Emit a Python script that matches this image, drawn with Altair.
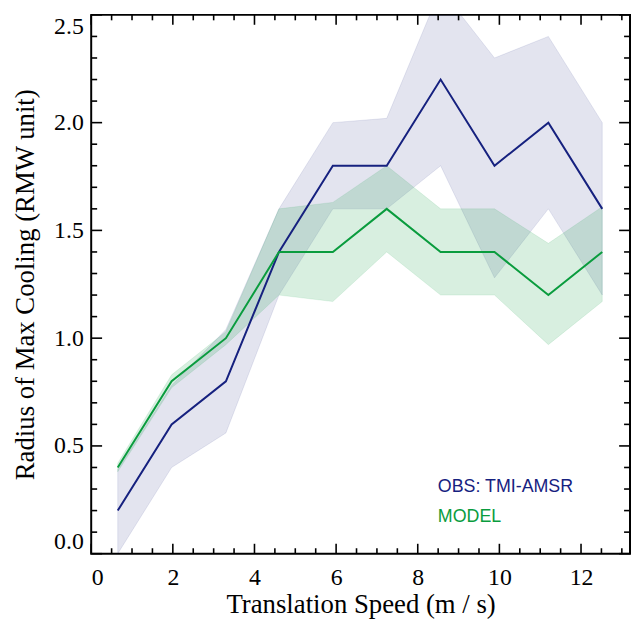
import altair as alt
import pandas as pd

# ---------------- data ----------------
speed = [0.65, 1.97, 3.3, 4.6, 5.92, 7.24, 8.56, 9.88, 11.2, 12.52]

obs_mid = [0.2, 0.6, 0.8, 1.4, 1.8, 1.8, 2.2, 1.8, 2.0, 1.6]
obs_lo = [0.0, 0.4, 0.56, 1.2, 1.6, 1.6, 1.8, 1.28, 1.6, 1.2]
obs_hi = [0.39, 0.78, 1.04, 1.6, 2.0, 2.02, 2.62, 2.3, 2.4, 2.0]

mod_mid = [0.4, 0.8, 1.0, 1.4, 1.4, 1.6, 1.4, 1.4, 1.2, 1.4]
mod_lo = [0.38, 0.77, 0.97, 1.2, 1.17, 1.4, 1.2, 1.2, 0.97, 1.17]
mod_hi = [0.42, 0.83, 1.03, 1.6, 1.63, 1.8, 1.6, 1.6, 1.44, 1.61]

series = ["OBS: TMI-AMSR", "MODEL"]
colors = ["#16217f", "#0a9c3e"]

x_major = [0, 2, 4, 6, 8, 10, 12]
x_minor = [v / 2 for v in range(1, 27) if v % 4 != 0]
y_major = [0.0, 0.5, 1.0, 1.5, 2.0, 2.5]
y_minor = [round(v / 10, 1) for v in range(1, 25) if v % 5 != 0]

# ---------------- build table ----------------
rows = []
for name, mid, lo, hi in [(series[0], obs_mid, obs_lo, obs_hi),
                          (series[1], mod_mid, mod_lo, mod_hi)]:
    for x, m, l, h in zip(speed, mid, lo, hi):
        rows.append(dict(series=name, speed=x, mid=m, lo=l, hi=h))
df = pd.DataFrame(rows)

W, H = 544, 544
SERIF = "Liberation Serif"
X_TITLE = "Translation Speed (m / s)"
Y_TITLE = "Radius of Max Cooling (RMW unit)"
xs = alt.Scale(domain=[0, 13.2], nice=False, zero=False)
ys = alt.Scale(domain=[0, 2.5], nice=False, zero=False)
# same mapping, with explicit pixel ranges, for the tick-mark group
xs_t = alt.Scale(domain=[0, 13.2], range=[0, W], nice=False, zero=False)
ys_t = alt.Scale(domain=[0, 2.5], range=[H, 0], nice=False, zero=False)
cs = alt.Scale(domain=series, range=colors)

x_axis = alt.Axis(values=x_major, ticks=False, domain=False, grid=False,
                  labelFont=SERIF, labelFontSize=24, labelColor="black",
                  labelPadding=12, titleFont=SERIF, titleFontSize=27,
                  titleFontWeight="normal", titleColor="black", titlePadding=2)
y_axis = alt.Axis(values=y_major, format=".1f", ticks=False, domain=False,
                  grid=False, labelFont=SERIF, labelFontSize=24,
                  labelColor="black", labelPadding=8, labelFlush=True,
                  titleFont=SERIF, titleFontSize=27, titleFontWeight="normal",
                  titleColor="black", titlePadding=14)

base = alt.Chart(df)

bands = base.mark_area(clip=True, strokeWidth=0.8, strokeOpacity=0.12).encode(
    x=alt.X("speed:Q", scale=xs, axis=x_axis, title=X_TITLE),
    y=alt.Y("lo:Q", scale=ys, axis=y_axis, title=Y_TITLE),
    y2="hi:Q",
    fill=alt.Color("series:N", scale=cs, legend=None),
    stroke=alt.Color("series:N", scale=cs, legend=None),
    fillOpacity=alt.FillOpacity("series:N",
                                scale=alt.Scale(domain=series, range=[0.12, 0.16]),
                                legend=None),
)

lines = base.mark_line(strokeWidth=2, clip=True).encode(
    x=alt.X("speed:Q", scale=xs, axis=x_axis, title=X_TITLE),
    y=alt.Y("mid:Q", scale=ys, axis=y_axis, title=Y_TITLE),
    color=alt.Color("series:N", scale=cs, legend=None),
)

main = alt.layer(bands, lines)


def xticks(vals, length, top):
    d = pd.DataFrame({"xv": vals})
    return alt.Chart(d).mark_rule(color="black", strokeWidth=1.6).encode(
        x=alt.X("xv:Q", scale=xs_t, axis=None),
        y=alt.value(0 if top else H),
        y2=alt.value(length if top else H - length),
    )


def yticks(vals, length, right):
    d = pd.DataFrame({"yv": vals})
    return alt.Chart(d).mark_rule(color="black", strokeWidth=1.6).encode(
        y=alt.Y("yv:Q", scale=ys_t, axis=None),
        x=alt.value(W if right else 0),
        x2=alt.value(W - length if right else length),
    )


tick_group = alt.layer(
    xticks(x_major, 10, False), xticks(x_minor, 5.5, False),
    xticks(x_major, 10, True), xticks(x_minor, 5.5, True),
    yticks(y_major, 11, False), yticks(y_minor, 6, False),
    yticks(y_major, 11, True), yticks(y_minor, 6, True),
)

# legend drawn as coloured text labels
legend_df = pd.DataFrame({"series": series})
legend = alt.Chart(legend_df).mark_text(
    align="left", baseline="middle", font="Liberation Sans", fontSize=18
).encode(
    x=alt.value(350),
    y=alt.Y("series:N", scale=alt.Scale(domain=series, range=[477, 507], padding=0),
            axis=None),
    color=alt.Color("series:N", scale=cs, legend=None),
    text="series:N",
)

chart = alt.layer(main, tick_group, legend).resolve_scale(
    x="independent", y="independent"
).properties(
    width=W, height=H,
    padding={"left": 4, "top": 3, "right": 0, "bottom": 0},
).configure_view(stroke="black", strokeWidth=2)

chart.save("out.html", embed_options={"renderer": "svg", "actions": False})
